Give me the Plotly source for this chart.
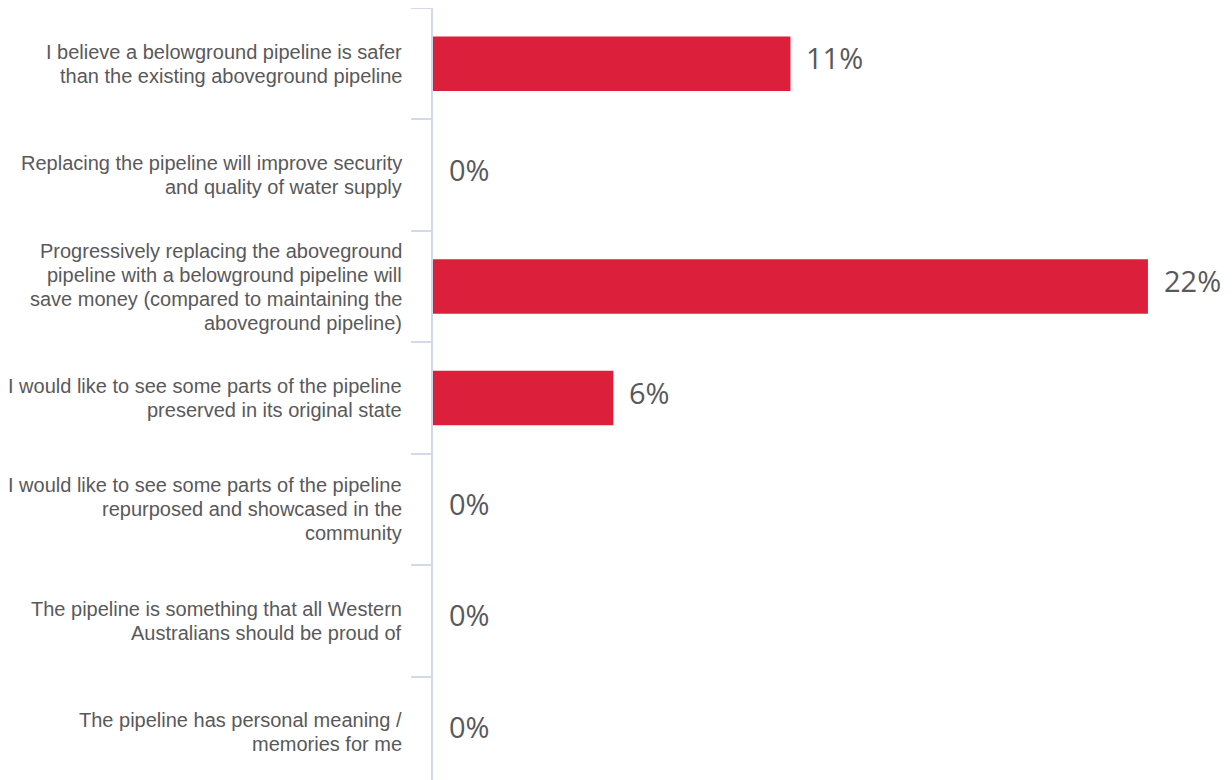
import plotly.graph_objects as go

categories = [
    "I believe a belowground pipeline is safer<br>than the existing aboveground pipeline",
    "Replacing the pipeline will improve security<br>and quality of water supply",
    "Progressively replacing the aboveground<br>pipeline with a belowground pipeline will<br>save money (compared to maintaining the<br>aboveground pipeline)",
    "I would like to see some parts of the pipeline<br>preserved in its original state",
    "I would like to see some parts of the pipeline<br>repurposed and showcased in the<br>community",
    "The pipeline is something that all Western<br>Australians should be proud of",
    "The pipeline has personal meaning /<br>memories for me",
]
values = [11.1, 0, 22.2, 5.6, 0, 0, 0]
value_labels = ["11%", "0%", "22%", "6%", "0%", "0%", "0%"]

axis_color = "#d3d9e8"
text_color = "#59595b"
label_font = dict(family="Liberation Sans", size=20, color=text_color)
line_gap = 24

fig = go.Figure()
fig.add_trace(go.Bar(
    x=values, y=categories, orientation="h",
    marker=dict(color="#dc1f3a", line=dict(width=0)),
    width=0.49, hoverinfo="skip",
))
for v, c, lab in zip(values, categories, value_labels):
    fig.add_annotation(
        x=v, y=c, text=lab, showarrow=False, xanchor="left", yanchor="middle",
        xshift=14, yshift=6, font=dict(family="Open Sans", size=29, color=text_color),
    )
    lines = c.split("<br>")
    n = len(lines)
    for j, ln in enumerate(lines):
        fig.add_annotation(
            x=0, y=c, text=ln, showarrow=False, xanchor="right", yanchor="middle",
            xshift=-29, yshift=((n - 1) / 2 - j) * line_gap, font=label_font,
        )

fig.update_layout(
    width=1232, height=780,
    margin=dict(l=425, r=18, t=0, b=0, pad=0),
    paper_bgcolor="white", plot_bgcolor="white",
    showlegend=False,
    xaxis=dict(range=[0, 24.5], visible=False, fixedrange=True, automargin=False),
    yaxis=dict(
        type="category", autorange="reversed", automargin=False,
        tickson="boundaries", ticks="outside", ticklen=20, tickwidth=2,
        tickcolor=axis_color, showline=True, linecolor=axis_color, linewidth=2,
        showgrid=False, showticklabels=False, fixedrange=True,
    ),
)

fig.write_html("out.html")
